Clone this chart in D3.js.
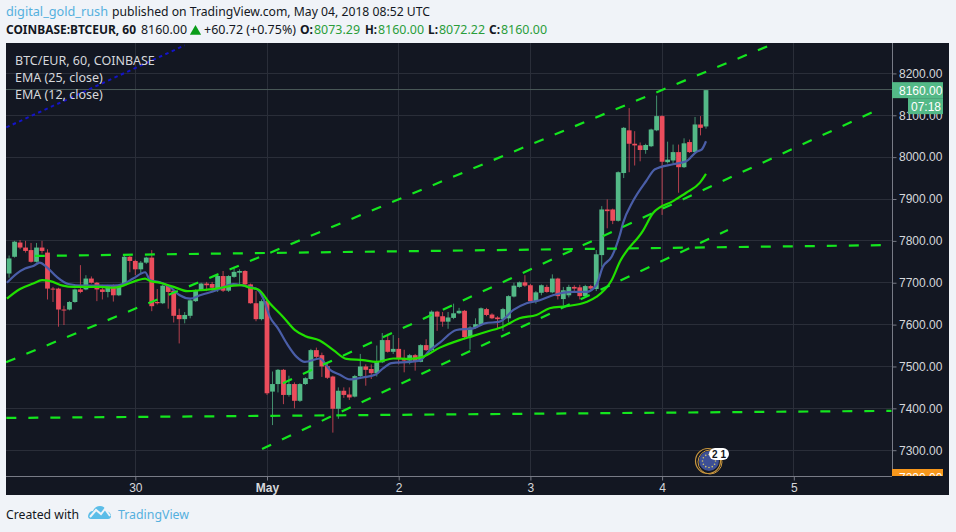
<!DOCTYPE html>
<html lang="en">
<head>
  <meta charset="UTF-8">
  <title>BTC/EUR, 60</title>
  <script src="https://cdn.jsdelivr.net/npm/d3@7/dist/d3.min.js"></script>
  <style>
    html, body { margin: 0; padding: 0; background: #f0f3f8; }
    svg { display: block; }
    .head { font-family: "Noto Sans", sans-serif; font-size: 13px; fill: #131722; }
    .legend { font-family: "Noto Sans", sans-serif; font-size: 12.5px; fill: #d6d8dc; }
    .axis text { font-family: "Liberation Sans", Arial, sans-serif; font-size: 12px; fill: #d6d8dc; }
    .axis path, .axis line { stroke: #787b86; }
  </style>
</head>
<body>
  <div id="wrapper"></div>
  <script>
    // hours counted from Apr 30 00:00, candles are 60 min
    const firstHour = -23
    const opens = [7722,7762,7796,7784,7778,7750,7784,7772,7686,7686,7636,7636,7654,7684,7684,7710,7700,7684,7678,7693,7670,7694,7762,
      7752,7732,7748,7760,7654,7651,7693,7681,7623,7613,7621,7656,7682,7698,7697,7686,7716,7681,7714,7724,7728,7696,7651,7613,
      7656,7440,7458,7492,7432,7458,7418,7458,7470,7539,7527,7501,7476,7399,7442,7433,7428,7477,7500,7494,7484,7510,7563,7535,
      7542,7519,7514,7527,7511,7551,7539,7631,7620,7607,7616,7627,7633,7570,7593,7599,7637,7624,7617,7613,7615,7667,7690,7701,
      7694,7656,7676,7690,7677,7710,7661,7670,7690,7689,7668,7692,7685,7766,7875,7875,7848,7962,8064,8032,8028,8017,8026,8064,
      8098,7988,7992,8012,7976,8036,8012,8078,8073.29]
    const highs = [7765,7800,7802,7800,7795,7795,7800,7780,7690,7688,7645,7656,7686,7742,7718,7715,7702,7695,7695,7696,7696,7766,
      7764,7755,7752,7762,7778,7685,7695,7695,7683,7638,7630,7660,7684,7700,7702,7702,7720,7728,7718,7738,7732,7730,7698,7680,
      7660,7660,7488,7494,7494,7478,7462,7460,7474,7542,7545,7533,7510,7478,7450,7450,7450,7480,7530,7505,7505,7550,7580,7578,
      7575,7568,7540,7530,7530,7553,7565,7634,7633,7630,7630,7650,7640,7635,7597,7615,7641,7640,7627,7620,7640,7670,7700,7703,
      7718,7697,7680,7696,7695,7720,7712,7690,7695,7694,7695,7695,7695,7778,7883,7899,7877,7966,8072,8117,8062,8035,8032,8068,
      8147,8100,8037,8030,8030,8045,8042,8096,8098,8160]
    const lows = [7712,7760,7780,7772,7748,7748,7770,7660,7654,7595,7599,7634,7652,7675,7682,7698,7656,7660,7665,7655,7668,7692,
      7725,7718,7722,7745,7632,7648,7649,7638,7605,7555,7603,7615,7654,7680,7680,7678,7678,7678,7678,7712,7695,7694,7650,7608,
      7610,7432,7360,7438,7410,7428,7400,7415,7456,7468,7520,7475,7470,7342,7375,7425,7420,7426,7470,7454,7470,7476,7508,7533,
      7530,7505,7486,7505,7490,7510,7537,7537,7585,7595,7590,7613,7625,7565,7540,7590,7597,7620,7613,7590,7585,7605,7665,7688,
      7690,7654,7650,7670,7676,7675,7660,7645,7665,7678,7660,7665,7680,7680,7738,7830,7840,7846,7950,7964,7980,7990,8008,8024,
      8062,7862,7985,7985,7915,7974,8010,8010,8052,8068]
    const closes = [7758,7798,7784,7776,7750,7784,7776,7686,7684,7636,7634,7654,7684,7678,7710,7700,7684,7678,7693,7670,7694,7762,
      7752,7732,7748,7760,7644,7651,7693,7678,7621,7613,7623,7658,7682,7698,7694,7688,7716,7681,7716,7726,7728,7696,7651,7613,
      7656,7436,7458,7492,7432,7458,7418,7458,7472,7539,7523,7500,7473,7399,7442,7432,7426,7477,7500,7492,7484,7512,7563,7535,
      7542,7519,7514,7527,7511,7551,7539,7631,7619,7607,7617,7627,7633,7570,7593,7601,7639,7623,7615,7613,7637,7668,7693,7701,
      7693,7656,7677,7694,7678,7710,7668,7682,7690,7686,7668,7692,7686,7768,7875,7871,7848,7964,8070,8032,8028,8017,8029,8066,
      8098,7989,7994,8012,7976,8033,8012,8078,8070,8160]

    const ema12Hours = [-23.4,-21.6,-20.1,-18.6,-17.4,-16.2,-14.3,-12.2,-9.5,-6.4,-4,-2.2,-0.4,1.8,2.7,4.5,6.3,8.1,10,11.8,14.8,17.9,19.7,22.1,
      23.3,24.5,26,27.6,29.4,30.9,33.6,35.5,37.3,39.1,41.5,43.7,45.2,46.7,50,51.8,53.7,55.5,58.5,61.6,63.7,66.4,68.9,71.3,73.7,76.1,79.8,82.2,
      84,85.2,86.8,88.3,88.9,90.7,93.1,94.7,98,100.4,102.3,103.2,104]
    const ema12 = [7700,7722,7734,7740,7748,7738,7714,7697,7693,7693,7693,7697,7710,7725,7706,7701,7690,7670,7662,7670,7682,7697,7693,7685,
      7663,7619,7591,7555,7523,7511,7519,7492,7480,7469,7474,7480,7496,7508,7511,7514,7539,7557,7587,7591,7603,7607,7635,7651,7658,7670,7678,7678,
      7694,7738,7762,7814,7843,7895,7943,7971,7983,7990,8013,8018,8038]
    const ema25Hours = [-23.4,-21,-18.6,-17,-15.5,-13.2,-11.3,-6.4,-4,-2.2,0.2,1.8,2.7,4.5,7,9.5,11.8,14.8,17.9,19.4,20.9,22.4,
      24.5,26.9,29.1,30.9,33.6,36.1,38.5,41.5,43.9,47,50,52.4,55.5,59.1,61.6,64,67,70,73.1,75.5,78.6,82.2,84,86.8,88.3,92.5,94.4,98,100.4,102.9,104]
    const ema25 = [7662,7685,7698,7706,7704,7693,7690,7690,7688,7693,7705,7710,7704,7700,7690,7680,7682,7686,7693,7694,7688,7684,
      7651,7619,7587,7573,7562,7539,7518,7515,7511,7519,7518,7523,7545,7563,7573,7583,7595,7615,7623,7639,7644,7654,7666,7706,7750,7824,7867,7895,7915,7939,7960]

    // trend lines as [hour, price]
    const trendStarts = [[-23.55,7510],[26.9,7460],[23.1,7303],[-18.3,7764],[-23.5,7377]]
    const trendEnds = [[115.6,8267],[135.1,8112],[108,7826],[137.8,7790],[137.8,7394]]
    const dottedStart = [-23.5,8071]
    const dottedEnd = [9,8267]

    const priceTicks = [7300,7400,7500,7600,7700,7800,7900,8000,8100,8200]
    const dayHours = [0,24,48,72,96,120]
    const dayLabels = ["30","May","2","3","4","5"]
    const lastPrice = 8160
    const countdown = "07:18"
    const lowLabel = "7290.00"

    const quoteTexts = ["COINBASE:BTCEUR, 60","8160.00","+60.72 (+0.75%)","O:","8073.29","H:","8160.00","L:","8072.22","C:","8160.00"]
    const legendLines = ["BTC/EUR, 60, COINBASE", "EMA (25, close)", "EMA (12, close)"]

    const dimensions = {
      width: 956, height: 532,
      panel: { left: 6, top: 43, right: 949, bottom: 495 },
      plotRight: 892, plotBottom: 476
    }
    const upColor = "#53b987", downColor = "#eb4d5c", trendColor = "#14e61e"
    const ink = "#131722", quoteGreen = "#2a9d3a", linkBlue = "#55b0de"

    // where each quote text sits: [left, right, weight, colour]
    const quoteLayout = [
      [6,136,"bold",ink],[141,187,"normal",ink],[204,296,"normal",ink],
      [300,313,"bold",ink],[314,360,"normal",quoteGreen],[365,377,"bold",ink],[378,424,"normal",quoteGreen],
      [428,438,"bold",ink],[439,485,"normal",quoteGreen],[489,500,"bold",ink],[501,547,"normal",quoteGreen]
    ]

    const svg = d3.select("#wrapper").append("svg")
      .attr("width", dimensions.width).attr("height", dimensions.height)

    svg.append("rect").attr("width", dimensions.width).attr("height", dimensions.height).attr("fill", "#f0f3f8")
    svg.append("rect")
      .attr("x", dimensions.panel.left).attr("y", dimensions.panel.top)
      .attr("width", dimensions.panel.right - dimensions.panel.left)
      .attr("height", dimensions.panel.bottom - dimensions.panel.top)
      .attr("fill", ink)

    const xScale = d3.scaleLinear().domain([0, 24]).range([135.3, 267])
    const yScale = d3.scaleLinear().domain([7300, 8200]).range([450.2, 73.4])

    const defs = svg.append("defs")
    defs.append("clipPath").attr("id", "plot").append("rect")
      .attr("x", dimensions.panel.left).attr("y", dimensions.panel.top)
      .attr("width", dimensions.plotRight - dimensions.panel.left)
      .attr("height", dimensions.plotBottom - dimensions.panel.top)
    defs.append("clipPath").attr("id", "lowBox").append("rect")
      .attr("x", dimensions.plotRight).attr("y", 468)
      .attr("width", 60).attr("height", 8)

    // grid
    const grid = svg.append("g").attr("stroke", "#2a2e39").attr("stroke-width", 1)
    grid.selectAll("line.h").data(priceTicks).join("line").attr("class", "h")
      .attr("x1", dimensions.panel.left).attr("x2", dimensions.plotRight)
      .attr("y1", d => Math.floor(yScale(d)) + 0.5).attr("y2", d => Math.floor(yScale(d)) + 0.5)
    grid.selectAll("line.v").data(dayHours).join("line").attr("class", "v")
      .attr("y1", dimensions.panel.top).attr("y2", dimensions.plotBottom)
      .attr("x1", d => Math.floor(xScale(d)) + 0.5).attr("x2", d => Math.floor(xScale(d)) + 0.5)

    const plot = svg.append("g").attr("clip-path", "url(#plot)")

    plot.append("line")
      .attr("x1", dimensions.panel.left).attr("x2", dimensions.plotRight)
      .attr("y1", yScale(lastPrice) - 0.6).attr("y2", yScale(lastPrice) - 0.6)
      .attr("stroke", "#4b5a58").attr("stroke-width", 1)

    // candles
    const candles = d3.range(opens.length).map(i => ({
      hour: firstHour + i, open: opens[i], high: highs[i], low: lows[i], close: closes[i]
    }))
    const candleColor = d => d.close >= d.open ? upColor : downColor
    plot.selectAll("line.wick").data(candles).join("line").attr("class", "wick")
      .attr("x1", d => xScale(d.hour)).attr("x2", d => xScale(d.hour))
      .attr("y1", d => yScale(d.high)).attr("y2", d => yScale(d.low))
      .attr("stroke", candleColor).attr("stroke-width", 1).attr("opacity", 0.75)
    plot.selectAll("rect.body").data(candles).join("rect").attr("class", "body")
      .attr("x", d => xScale(d.hour) - 2.4)
      .attr("width", 4.8)
      .attr("y", d => yScale(Math.max(d.open, d.close)))
      .attr("height", d => Math.max(1, Math.abs(yScale(d.open) - yScale(d.close))))
      .attr("fill", candleColor)

    // EMAs
    const lineGenerator = d3.line()
      .x(d => xScale(d[0]))
      .y(d => yScale(d[1]))
      .curve(d3.curveMonotoneX)
    plot.append("path")
      .attr("d", lineGenerator(d3.zip(ema12Hours, ema12)))
      .attr("fill", "none").attr("stroke", "#4a5ea8").attr("stroke-width", 2.2)
    plot.append("path")
      .attr("d", lineGenerator(d3.zip(ema25Hours, ema25)))
      .attr("fill", "none").attr("stroke", "#21e000").attr("stroke-width", 2.2)

    // trend lines
    plot.selectAll("line.trend").data(d3.zip(trendStarts, trendEnds)).join("line").attr("class", "trend")
      .attr("x1", d => xScale(d[0][0])).attr("y1", d => yScale(d[0][1]))
      .attr("x2", d => xScale(d[1][0])).attr("y2", d => yScale(d[1][1]))
      .attr("stroke", trendColor).attr("stroke-width", 2.2).attr("stroke-dasharray", "10 12")
    plot.append("line")
      .attr("x1", xScale(dottedStart[0])).attr("y1", yScale(dottedStart[1]))
      .attr("x2", xScale(dottedEnd[0])).attr("y2", yScale(dottedEnd[1]))
      .attr("stroke", "#1414c8").attr("stroke-width", 2).attr("stroke-dasharray", "3.5 3.5")

    // axes
    const yAxis = d3.axisRight(yScale).tickValues(priceTicks).tickFormat(d3.format(".2f")).tickSize(4).tickPadding(2.5)
    const yAxisG = svg.append("g").attr("class", "axis")
      .attr("transform", `translate(${dimensions.plotRight + 0.5},0)`).call(yAxis)
    yAxisG.select(".domain").attr("d", `M0,${dimensions.panel.top}V${dimensions.plotBottom}`)

    const xAxis = d3.axisBottom(xScale).tickValues(dayHours).tickFormat((d, i) => dayLabels[i]).tickSize(4).tickPadding(3)
    const xAxisG = svg.append("g").attr("class", "axis")
      .attr("transform", `translate(0,${dimensions.plotBottom + 0.5})`).call(xAxis)
    xAxisG.select(".domain").attr("d", `M${dimensions.panel.left},0H${dimensions.plotRight}`)
    xAxisG.selectAll(".tick text")
      .style("font-weight", (d, i) => dayLabels[i] === "May" ? "bold" : "normal")

    // price label and countdown
    const labelY = yScale(lastPrice)
    svg.append("rect").attr("x", dimensions.plotRight).attr("y", labelY - 8).attr("width", 51).attr("height", 16).attr("fill", upColor)
    svg.append("text").attr("x", 899).attr("y", labelY + 4.5)
      .attr("font-family", "Liberation Sans, Arial, sans-serif").attr("font-size", 12).attr("fill", "#fff").text(d3.format(".2f")(lastPrice))
    svg.append("rect").attr("x", 908).attr("y", labelY + 8).attr("width", 35).attr("height", 16).attr("fill", upColor)
    svg.append("text").attr("x", 911).attr("y", labelY + 20.5)
      .attr("font-family", "Liberation Sans, Arial, sans-serif").attr("font-size", 12).attr("fill", "#fff").text(countdown)

    // low price tag, cut by the bottom of the axis
    const lowTag = svg.append("g").attr("clip-path", "url(#lowBox)")
    lowTag.append("rect").attr("x", dimensions.plotRight).attr("y", 469).attr("width", 51).attr("height", 16).attr("fill", "#f7971c")
    lowTag.append("text").attr("x", 899).attr("y", 482)
      .attr("font-family", "Liberation Sans, Arial, sans-serif").attr("font-size", 12).attr("fill", "#fff").text(lowLabel)

    // news marker
    const marker = svg.append("g")
    marker.append("circle").attr("cx", 708).attr("cy", 461).attr("r", 12.5).attr("fill", ink).attr("stroke", "#c8963e").attr("stroke-width", 1.2)
    marker.append("circle").attr("cx", 710).attr("cy", 462).attr("r", 12).attr("fill", "none").attr("stroke", "#c8963e").attr("stroke-width", 1)
    marker.append("circle").attr("cx", 709).attr("cy", 461).attr("r", 10).attr("fill", "#3d4f96")
    const stars = d3.range(12).map(i => i * Math.PI / 6)
    marker.selectAll("circle.star").data(stars).join("circle").attr("class", "star")
      .attr("cx", d => 709 + 6.5 * Math.cos(d)).attr("cy", d => 461 + 6.5 * Math.sin(d)).attr("r", 0.8).attr("fill", "#cfc46a")
    marker.append("rect").attr("x", 709).attr("y", 448).attr("width", 20).attr("height", 12).attr("rx", 6).attr("fill", "#fff")
    marker.append("text").attr("x", 719).attr("y", 458).attr("text-anchor", "middle")
      .attr("font-family", "Liberation Sans, Arial, sans-serif").attr("font-size", 10).attr("font-weight", "bold").attr("fill", ink).text("2 1")

    // legend in the chart
    svg.selectAll("text.legend").data(legendLines).join("text").attr("class", "legend")
      .attr("x", 15).attr("y", (d, i) => 65 + i * 17).text(d => d)

    // header
    const fitted = (sel, width) => sel.attr("textLength", width).attr("lengthAdjust", "spacingAndGlyphs")
    svg.append("text").attr("class", "head").attr("x", 6).attr("y", 16)
      .style("fill", linkBlue).text("digital_gold_rush").call(fitted, 102)
    svg.append("text").attr("class", "head").attr("x", 112).attr("y", 16)
      .text("published on TradingView.com, May 04, 2018 08:52 UTC").call(fitted, 318)
    svg.selectAll("text.quote").data(d3.zip(quoteTexts, quoteLayout)).join("text").attr("class", "head quote")
      .attr("x", d => d[1][0]).attr("y", 34)
      .attr("textLength", d => d[1][1] - d[1][0]).attr("lengthAdjust", "spacingAndGlyphs")
      .style("font-size", d => d[1][2] === "bold" ? "11.5px" : "13px")
      .style("font-weight", d => d[1][2]).style("fill", d => d[1][3]).text(d => d[0])
    svg.append("path").attr("d", d3.symbol(d3.symbolTriangle, 55)()).attr("transform", "translate(195.5,31.5)").attr("fill", "#0a9d1a")

    // footer
    svg.append("text").attr("class", "head").attr("x", 6).attr("y", 519)
      .text("Created with").call(fitted, 73)
    svg.append("path").attr("d", "M88,516 Q89,511 93,511 Q95,506 100,506 Q105,506 106,511 Q111,512 111,516 Q111,519 108,519 L91,519 Q88,519 88,516 Z").attr("fill", "#5cbde8")
    svg.append("path").attr("d", "M90,517 L96,510 L101,514 L105,509 L110,516").attr("fill", "none").attr("stroke", "#f0f3f8").attr("stroke-width", 2)
    svg.append("text").attr("class", "head").attr("x", 118).attr("y", 519)
      .style("fill", linkBlue).text("TradingView").call(fitted, 71)
  </script>
</body>
</html>
